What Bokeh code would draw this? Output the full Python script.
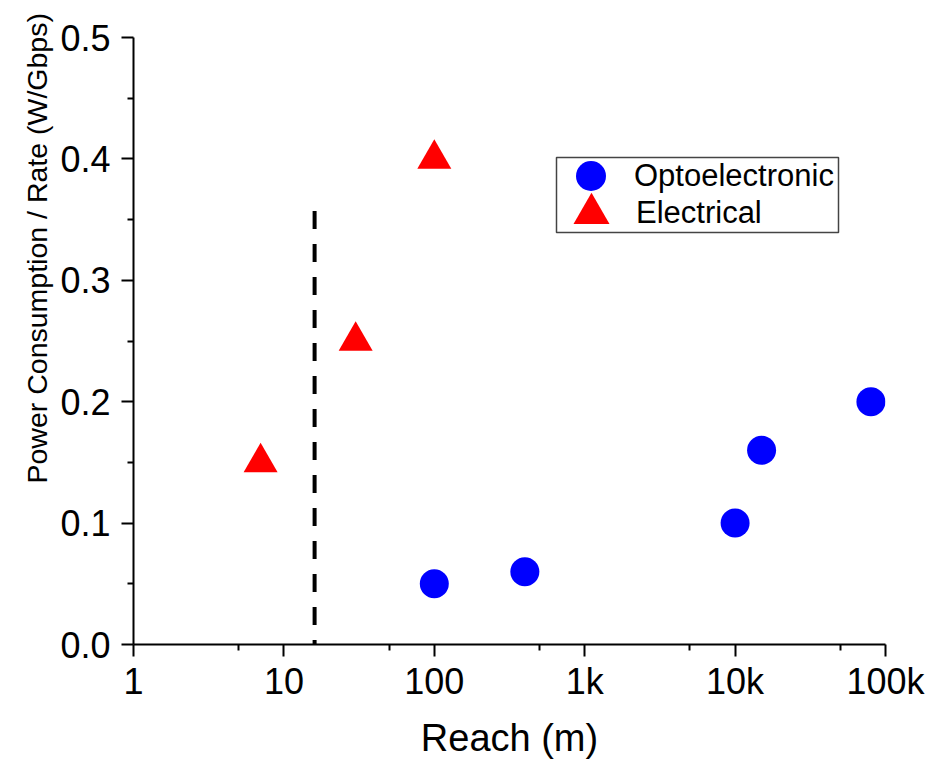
from bokeh.plotting import figure
from bokeh.models import (Range1d, FixedTicker, CustomJSTickFormatter, PrintfTickFormatter,
                          Legend, LegendItem, Title, BoxAnnotation)
from bokeh.embed import file_html
from bokeh.resources import INLINE

# ---- data ----
opto_reach = [100, 400, 10000, 15000, 80000]
opto_power = [0.05, 0.06, 0.10, 0.16, 0.20]
elec_reach = [7, 30, 100]
elec_power = [0.15, 0.25, 0.40]
divider_reach = [16, 16]
divider_power = [0.357, 0.0]

x_ticks = [1, 10, 100, 1000, 10000, 100000]
x_tick_labels = ["1", "10", "100", "1k", "10k", "100k"]
x_minor_ticks = [5, 50, 500, 5000, 50000]
y_ticks = [0.0, 0.1, 0.2, 0.3, 0.4, 0.5]
y_minor_ticks = [0.05, 0.15, 0.25, 0.35, 0.45]

FONT = "Liberation Sans"

p = figure(width=930, height=761, x_axis_type="log",
           x_range=Range1d(1, 100000), y_range=Range1d(0, 0.5),
           output_backend="svg", toolbar_location=None,
           min_border_left=133, min_border_right=45,
           min_border_top=37, min_border_bottom=117)
p.outline_line_color = None
p.xgrid.visible = False
p.ygrid.visible = False
p.background_fill_color = "white"
p.border_fill_color = "white"

# divider line
p.line(divider_reach, divider_power, line_color="black", line_width=4, line_dash="18 15")

r_opto = p.scatter(opto_reach, opto_power, marker="circle", size=29,
                   fill_color="#0000FF", line_color=None)
r_elec = p.scatter(elec_reach, elec_power, marker="triangle", size=34,
                   fill_color="#FF0000", line_color=None)

# axes
for ax in (p.xaxis[0], p.yaxis[0]):
    ax.axis_line_width = 2
    ax.axis_line_color = "black"
    ax.major_tick_line_width = 2
    ax.minor_tick_line_width = 2
    ax.major_tick_in = 0
    ax.major_tick_out = 12
    ax.minor_tick_in = 0
    ax.minor_tick_out = 6
    ax.major_label_text_font = FONT
    ax.major_label_text_font_size = "36px"
    ax.major_label_text_color = "black"

p.xaxis.ticker = FixedTicker(ticks=x_ticks, minor_ticks=x_minor_ticks)
p.xaxis.formatter = CustomJSTickFormatter(
    args=dict(vals=x_ticks, labels=x_tick_labels),
    code="""
    const i = vals.findIndex(v => Math.abs(v - tick) < 1e-6 * v);
    return i >= 0 ? labels[i] : "";
    """)
p.xaxis.major_label_standoff = 4
p.xaxis.axis_label = "Reach (m)"
p.xaxis.axis_label_text_font = FONT
p.xaxis.axis_label_text_font_size = "38px"
p.xaxis.axis_label_text_font_style = "normal"
p.xaxis.axis_label_text_color = "black"
p.xaxis.axis_label_standoff = 12

p.yaxis.ticker = FixedTicker(ticks=y_ticks, minor_ticks=y_minor_ticks)
p.yaxis.formatter = PrintfTickFormatter(format="%.1f")
p.yaxis.major_label_standoff = 11

# y-axis title, placed like the reference (starts low, not centred on the frame)
p.add_layout(Title(text="Power Consumption / Rate (W/Gbps)", align="left", offset=161,
                   text_font=FONT, text_font_size="28.5px",
                   text_font_style="normal", text_color="black", standoff=10), "left")

# legend frame
p.add_layout(BoxAnnotation(left=423, right=705, top=487, bottom=412,
                           left_units="screen", right_units="screen",
                           top_units="screen", bottom_units="screen",
                           fill_color="white", fill_alpha=1.0,
                           line_color="#444444", line_width=1.5, line_alpha=1.0))

common = dict(padding=0, border_line_color=None, background_fill_alpha=0,
              label_text_font=FONT, label_text_font_size="31px", label_text_color="black")
leg_opto = Legend(items=[LegendItem(label="Optoelectronic", renderers=[r_opto])],
                  location=(420, 431), glyph_height=75, glyph_width=75,
                  label_standoff=6, **common)
leg_elec = Legend(items=[LegendItem(label="Electrical", renderers=[r_elec])],
                  location=(413, 386), glyph_height=90, glyph_width=90,
                  label_standoff=0, **common)
p.add_layout(leg_opto)
p.add_layout(leg_elec)

open("out.html", "w").write(file_html(p, INLINE))
